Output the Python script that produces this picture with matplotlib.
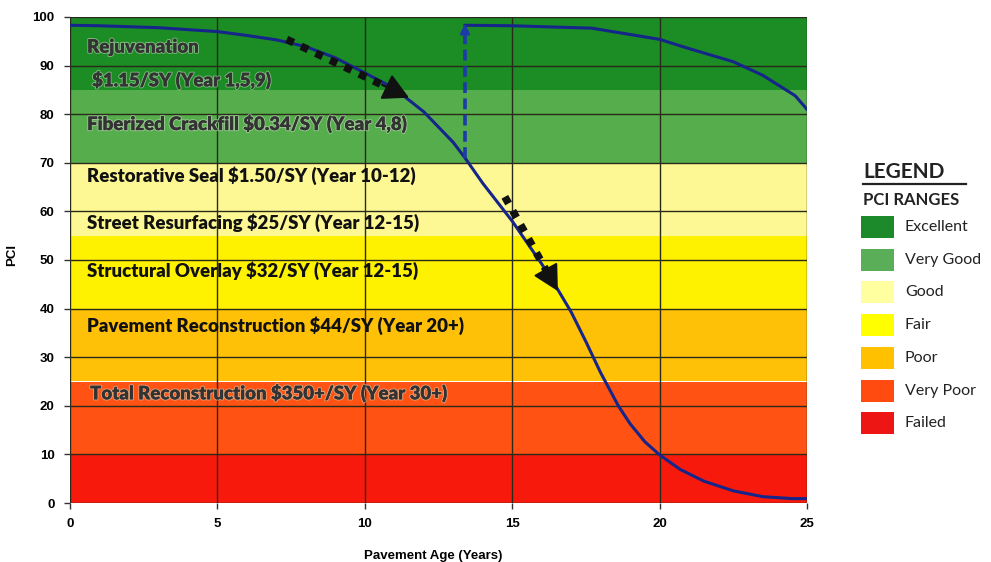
import matplotlib
matplotlib.use("Agg")
import matplotlib.pyplot as plt
from matplotlib.patches import Rectangle
import matplotlib.patheffects as pe

# ---------------- data ----------------
range_names = ["Excellent", "Very Good", "Good", "Fair", "Poor", "Very Poor", "Failed"]
range_low = [85, 70, 55, 40, 25, 10, 0]
range_high = [100, 85, 70, 55, 40, 25, 10]
range_colors = ["#1c8c24", "#56ad4c", "#fdf893", "#fff200", "#ffc107", "#ff5213", "#f7190c"]
legend_colors = ["#1c8a2a", "#5aae58", "#ffffa0", "#ffff00", "#ffc000", "#ff4a10", "#ee1515"]

treat_labels = [
    "Rejuvenation",
    "$1.15/SY (Year 1,5,9)",
    "Fiberized Crackfill $0.34/SY (Year 4,8)",
    "Restorative Seal $1.50/SY (Year 10-12)",
    "Street Resurfacing $25/SY (Year 12-15)",
    "Structural Overlay $32/SY (Year 12-15)",
    "Pavement Reconstruction $44/SY (Year 20+)",
    "Total Reconstruction $350+/SY (Year 30+)",
]
treat_x = [0.58, 0.75, 0.58, 0.58, 0.58, 0.58, 0.58, 0.68]
treat_y = [93.8, 87.0, 78.0, 67.3, 57.6, 47.9, 36.4, 22.6]

# deterioration curve without treatment
age1 = [0, 1, 2, 3, 4, 5, 6, 7, 8, 9, 10, 11, 12, 13, 13.4, 14, 15, 16, 16.5, 17,
        17.5, 18, 18.6, 19, 19.5, 20, 20.7, 21.5, 22.5, 23.5, 24.5, 25]
pci1 = [98.3, 98.2, 98.0, 97.8, 97.4, 97.0, 96.2, 95.3, 93.9, 91.6, 88.5, 85.3, 80.5,
        74.2, 71.0, 65.8, 58.0, 49.2, 44.4, 39.3, 33.2, 26.8, 20.0, 16.3, 12.6, 9.9,
        6.9, 4.5, 2.5, 1.3, 0.9, 0.9]
# curve after restorative treatment
age2 = [13.4, 15, 17.7, 20, 21, 22.5, 23.5, 24.6, 25]
pci2 = [98.3, 98.2, 97.7, 95.4, 93.5, 90.8, 88.0, 83.8, 81.0]

# treatment arrows (start age, start PCI, end age, end PCI)
dot_arrows = [(7.35, 95.4, 11.5, 83.4), (14.75, 63.0, 16.55, 43.6)]
lift_arrow = (13.4, 71.0, 13.4, 98.6)

x_ticks = [0, 5, 10, 15, 20, 25]
y_ticks = [0, 10, 20, 30, 40, 50, 60, 70, 80, 90, 100]

# ---------------- figure ----------------
W, H = 991, 562
fig = plt.figure(figsize=(W / 100, H / 100), dpi=100)
fig.patch.set_facecolor("white")
ax = fig.add_axes([70 / W, 1 - 503 / H, (807 - 70) / W, (503 - 17) / H])
ax.set_xlim(0, 25)
ax.set_ylim(0, 100)

for lo, hi, c in zip(range_low, range_high, range_colors):
    ax.axhspan(lo, hi, color=c, zorder=0, lw=0)

for yv in y_ticks:
    ax.axhline(yv, color="#2a2a1a", lw=1.0, zorder=1)
for xv in x_ticks:
    ax.axvline(xv, color="#2a2a1a", lw=1.0, zorder=1)

cond = ["Liberation Sans", "DejaVu Sans"]
ax.set_xticks(x_ticks)
ax.set_yticks(y_ticks)
ax.set_xticklabels([str(v) for v in x_ticks], family=cond, weight="bold", fontsize=9.5)
ax.set_yticklabels([str(v) for v in y_ticks], family=cond, weight="bold", fontsize=9.5)
ax.tick_params(axis="both", length=4, width=1, color="#333333", pad=7)
for s in ax.spines.values():
    s.set_visible(False)

ax.set_xlabel("Pavement Age (Years)", family=cond, weight="bold", fontsize=9.5)
ax.xaxis.set_label_coords((433 - 70) / (807 - 70), -(550 - 503) / (503 - 17))
ax.set_ylabel("PCI", family=cond, weight="bold", fontsize=9.5)
ax.yaxis.set_label_coords(-(70 - 18) / (807 - 70), (503 - 255) / (503 - 17))

txtfont = ["Lato", "DejaVu Sans"]
for i, (lbl, tx, ty) in enumerate(zip(treat_labels, treat_x, treat_y)):
    light_bg = ty > 69 or ty < 25
    col = "#333333" if light_bg else "#111111"
    t = ax.text(tx, ty, lbl, family=txtfont, weight="heavy", fontsize=13.4, color=col,
                va="center", ha="left", zorder=3)
    if light_bg:
        t.set_path_effects([pe.withStroke(linewidth=1.6, foreground="#c8d8c0", alpha=0.55),
                            pe.Normal()])

ax.plot(age1, pci1, color="#15258a", lw=2.2, zorder=4)
ax.plot(age2, pci2, color="#15258a", lw=2.2, zorder=4)

for (x0, y0, x1, y1) in dot_arrows:
    f = 0.78
    xm, ym = x0 + f * (x1 - x0), y0 + f * (y1 - y0)
    ax.plot([x0, xm], [y0, ym], color="#111111", lw=5.5, linestyle=(0, (1, 1.1)),
            dash_capstyle="butt", zorder=5)
    ax.annotate("", xy=(x1, y1), xytext=(xm, ym), zorder=5,
                arrowprops=dict(arrowstyle="-|>,head_length=1.6,head_width=0.85",
                                color="#111111", lw=1.5, shrinkA=0, shrinkB=0))
x0, y0, x1, y1 = lift_arrow
ax.plot([x0, x1], [y0, y1 - 2.0], color="#1c3aa8", lw=2.6, linestyle=(0, (3, 1.5)),
        zorder=5)
ax.annotate("", xy=(x1, y1), xytext=(x1, y1 - 3.0), zorder=5,
            arrowprops=dict(arrowstyle="-|>,head_length=0.6,head_width=0.3",
                            color="#1c3aa8", lw=1.5, shrinkA=0, shrinkB=0))

# ---------------- legend ----------------
fig.text(863 / W, 1 - 172 / H, "LEGEND", family=txtfont, weight="bold", fontsize=15,
         color="#222222", va="center", ha="left")
fig.add_artist(plt.Line2D([863 / W, 966 / W], [1 - 184 / H, 1 - 184 / H],
                          color="#222222", lw=1.6, transform=fig.transFigure))
fig.text(863 / W, 1 - 200 / H, "PCI RANGES", family=txtfont, weight="bold", fontsize=12,
         color="#222222", va="center", ha="left")
row0, step = 227, 32.7
for i, (name, c) in enumerate(zip(range_names, legend_colors)):
    yc = row0 + i * step
    fig.add_artist(Rectangle((861 / W, 1 - (yc + 11) / H), 33 / W, 22 / H,
                             facecolor=c, edgecolor="none", transform=fig.transFigure))
    fig.text(905 / W, 1 - yc / H, name, family=txtfont, fontsize=11.5,
             color="#222222", va="center", ha="left")

fig.savefig("out.png", dpi=100)
